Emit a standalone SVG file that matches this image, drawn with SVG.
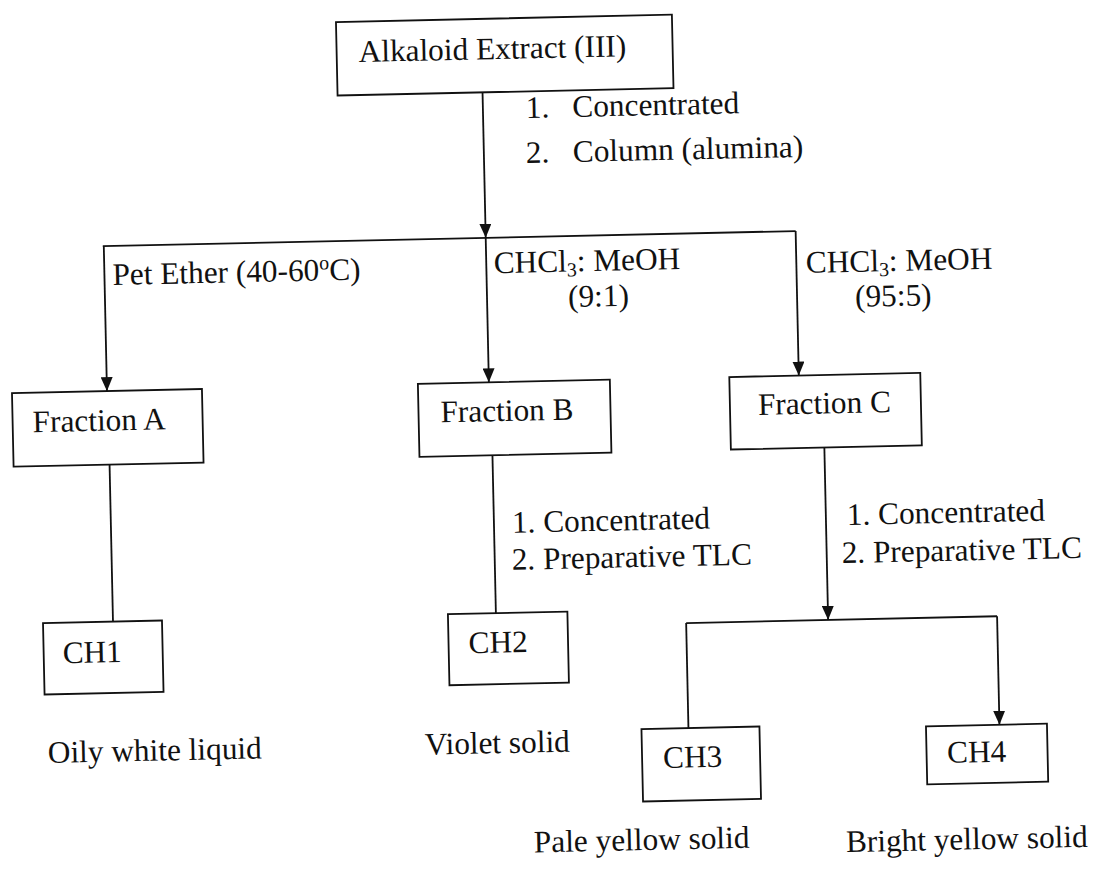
<svg xmlns="http://www.w3.org/2000/svg" width="1096" height="869" viewBox="0 0 1096 869">
<style>
.box{fill:none;stroke:#111;stroke-width:1.8}
.ln{fill:none;stroke:#111;stroke-width:1.8}
text{font-family:"Liberation Serif","Times New Roman",serif;font-size:31.3px;fill:#111}
.sub{font-size:20px}
.sup{font-size:20px}
</style>
<defs>
<marker id="ah" viewBox="0 0 14 12" refX="14" refY="6" markerWidth="14" markerHeight="12" markerUnits="userSpaceOnUse" orient="auto">
<path d="M0,0 L14,6 L0,12 z" fill="#111"/>
</marker>
</defs>
<rect width="1096" height="869" fill="#fff"/>
<g transform="rotate(-1.25 548 434)">
<g id="connectors">
<line class="ln" x1="490" y1="91" x2="490" y2="236.5" marker-end="url(#ah)"/>
<line class="ln" x1="107" y1="236.5" x2="800" y2="236.5"/>
<line class="ln" x1="108" y1="236.5" x2="108" y2="381.5" marker-end="url(#ah)"/>
<line class="ln" x1="490" y1="236.5" x2="490" y2="381" marker-end="url(#ah)"/>
<line class="ln" x1="800" y1="236.5" x2="800" y2="381" marker-end="url(#ah)"/>
<line class="ln" x1="109" y1="455" x2="109" y2="612"/>
<line class="ln" x1="492" y1="454" x2="492" y2="612"/>
<line class="ln" x1="824" y1="453.5" x2="824" y2="626" marker-end="url(#ah)"/>
<line class="ln" x1="682" y1="626" x2="993" y2="626"/>
<line class="ln" x1="682" y1="626" x2="682" y2="731"/>
<line class="ln" x1="993" y1="626" x2="993" y2="734.5" marker-end="url(#ah)"/>
<text x="533" y="117.5">1.</text><text x="579.5" y="117.5">Concentrated</text>
<text x="532" y="162.5">2.</text><text x="579" y="162.5">Column (alumina)</text>
<text x="116" y="275.5">Pet Ether (40-60<tspan class="sup" dy="-11">o</tspan><tspan dy="11">C)</tspan></text>
<text x="497.5" y="272">CHCl<tspan class="sub" dy="5">3</tspan><tspan dy="-5">: MeOH</tspan></text>
<text x="571" y="307.5">(9:1)</text>
<text x="809.5" y="278.5">CHCl<tspan class="sub" dy="5">3</tspan><tspan dy="-5">: MeOH</tspan></text>
<text x="858" y="313.5">(95:5)</text>
<text x="510" y="532">1. Concentrated</text>
<text x="509" y="569">2. Preparative TLC</text>
<text x="845" y="531.5">1. Concentrated</text>
<text x="839" y="569.5">2. Preparative TLC</text>
</g>
<g id="alkaloid-extract">
<rect class="box" x="345" y="17.5" width="336" height="73.5"/>
<text x="367" y="58">Alkaloid Extract (III)</text>
</g>
<g id="fraction-a">
<rect class="box" x="13" y="381.5" width="190" height="73.5"/>
<text x="33" y="421">Fraction A</text>
</g>
<g id="fraction-b">
<rect class="box" x="419" y="381" width="192" height="73"/>
<text x="441" y="420">Fraction B</text>
</g>
<g id="fraction-c">
<rect class="box" x="730.5" y="381" width="191" height="72.5"/>
<text x="758.5" y="419.5">Fraction C</text>
</g>
<g id="ch1">
<rect class="box" x="39" y="612" width="119" height="71.5"/>
<text x="58" y="652.5">CH1</text>
<text x="41" y="752">Oily white liquid</text>
</g>
<g id="ch2">
<rect class="box" x="444" y="612" width="119.5" height="71"/>
<text x="464" y="651.5">CH2</text>
<text x="418" y="752">Violet solid</text>
</g>
<g id="ch3">
<rect class="box" x="635" y="731" width="118" height="72.5"/>
<text x="656" y="770.5">CH3</text>
<text x="525" y="852">Pale yellow solid</text>
</g>
<g id="ch4">
<rect class="box" x="919.5" y="734.5" width="121" height="58"/>
<text x="940" y="771.5">CH4</text>
<text x="837" y="858.5">Bright yellow solid</text>
</g>
</g>
</svg>
